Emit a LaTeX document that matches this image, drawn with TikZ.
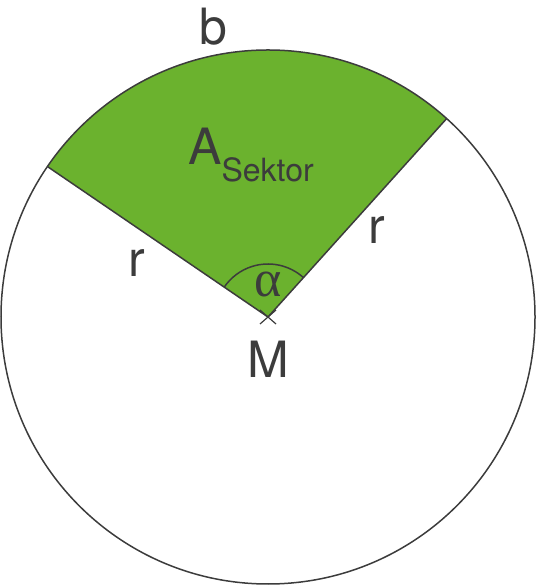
\documentclass[tikz,border=0pt]{standalone}
\usepackage{fontspec}
\setmainfont{TeX Gyre Heros}
\newfontfamily\alphafont{Liberation Serif}
\usetikzlibrary{calc}
\begin{document}
\begin{tikzpicture}[x=1pt,y=1pt,
  line/.style={draw=ink,line width=1.5pt},
  lbl/.style={text=ink,font=\fontsize{50}{50}\selectfont,inner sep=0pt}]
\definecolor{ink}{HTML}{3C3C3C}
\definecolor{sektor}{HTML}{6BB22E}
\useasboundingbox (0,0) rectangle (537,585);
\coordinate (M) at (268,268);
\coordinate (L) at ($(M)+(145.7:267)$);
\coordinate (R) at ($(M)+(48:267)$);
\fill[sektor] (M) -- (R) arc[start angle=48,end angle=145.7,radius=267] -- cycle;
\draw[line] (M) circle[radius=267];
\draw[line] (L) -- (M) -- (R);
\draw[line] ($(M)+(48:53)$) arc[start angle=48,end angle=145.7,radius=53];
\draw[draw=ink,line width=1.2pt] ($(M)+(-8,7)$) -- ($(M)+(8,-7)$) ($(M)+(-8,-7)$) -- ($(M)+(8,7)$);
\node[lbl] (Ml) at (268,226) {M};
\node[lbl] (bl) at (213,558) {b};
\node[lbl,anchor=base] (al) at (268,288) {\alphafont\fontsize{52}{52}\selectfont α};
\node[lbl] (rl) at (137,322) {r};
\node[lbl] (rr) at (377,355) {r};
\node[lbl,anchor=base west] (As) at (188,420) {A\raisebox{-17pt}{\fontsize{32}{32}\selectfont Sektor}};
\end{tikzpicture}
\end{document}
